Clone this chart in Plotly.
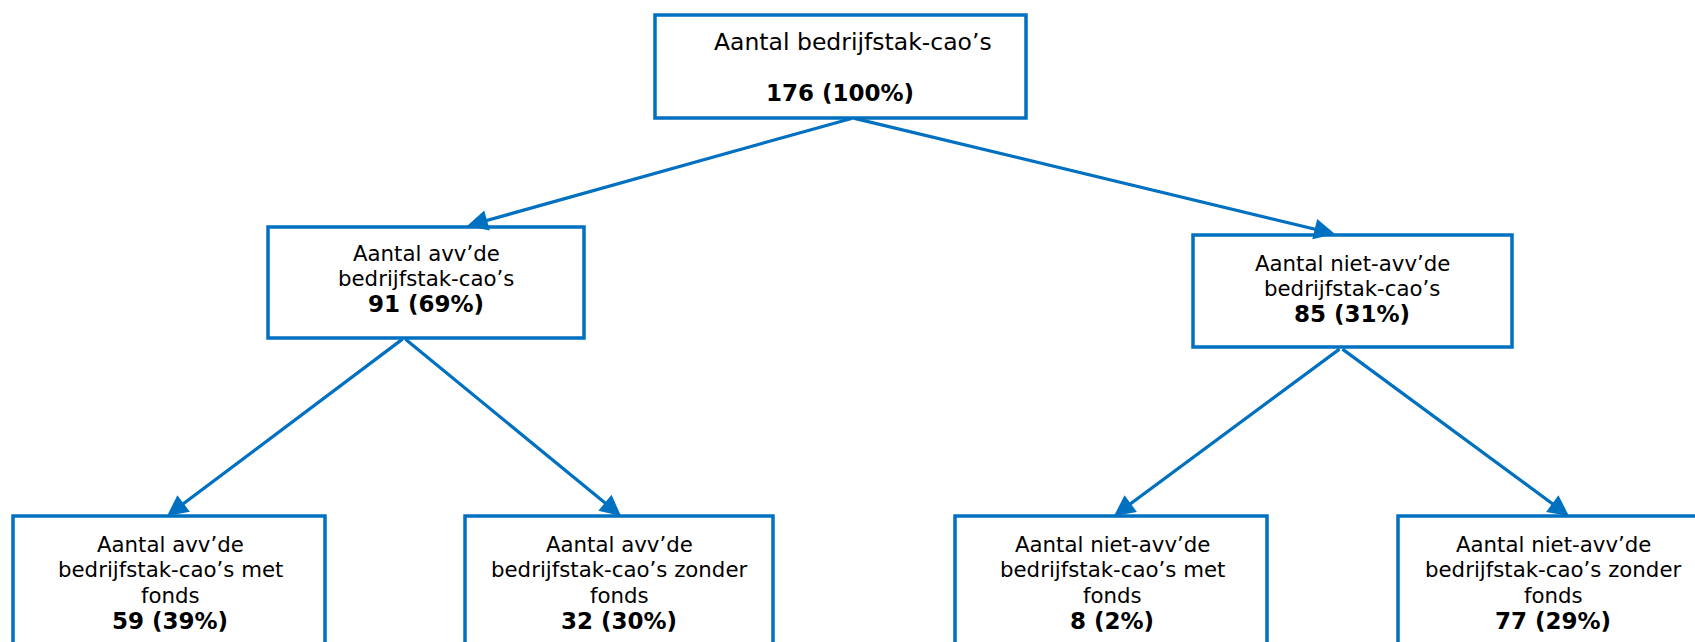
import plotly.graph_objects as go

# node texts and figures
node_labels = [
    ["Aantal bedrijfstak-cao’s", ""],
    ["Aantal avv’de", "bedrijfstak-cao’s"],
    ["Aantal niet-avv’de", "bedrijfstak-cao’s"],
    ["Aantal avv’de", "bedrijfstak-cao’s met", "fonds"],
    ["Aantal avv’de", "bedrijfstak-cao’s zonder", "fonds"],
    ["Aantal niet-avv’de", "bedrijfstak-cao’s met", "fonds"],
    ["Aantal niet-avv’de", "bedrijfstak-cao’s zonder", "fonds"],
]
node_counts = [176, 91, 85, 59, 32, 8, 77]
node_pcts = [100, 69, 31, 39, 30, 2, 29]
edges = [(0, 1), (0, 2), (1, 3), (1, 4), (2, 5), (2, 6)]

# diagram geometry (pixels, y downwards)
boxes = [
    (655, 15, 1026, 118),
    (268, 227, 584, 338),
    (1193, 235, 1512, 347),
    (13, 516, 325, 700),
    (465, 516, 773, 700),
    (955, 516, 1267, 700),
    (1398, 516, 1710, 700),
]
text_x = [840, 426, 1352, 170, 619, 1112, 1553]
text_y0 = [42, 253, 263, 544, 544, 544, 544]
line_h = 25.7
edge_start = {0: (853, 118), 1: (404, 338), 2: (1341, 348)}
edge_tip = {1: (467, 226), 2: (1335, 234), 3: (167, 516), 4: (621, 516),
            5: (1114, 516), 6: (1569, 516)}

BLUE = "#0070C0"
FONT = "DejaVu Sans"

fig = go.Figure()

for x0, y0, x1, y1 in boxes:
    fig.add_shape(type="rect", x0=x0, y0=y0, x1=x1, y1=y1,
                  line=dict(color=BLUE, width=3.5), fillcolor="white", layer="below")

for i, lines in enumerate(node_labels):
    all_lines = [(t, False) for t in lines] + [(f"{node_counts[i]} ({node_pcts[i]}%)", True)]
    for k, (t, bold) in enumerate(all_lines):
        if not t:
            continue
        size = 23 if bold else 21.3
        x = text_x[i]
        if i == 0 and k == 0:
            # the heading line of the top box is a bit larger and sits off-centre
            size, x = 23.5, 853
        fig.add_annotation(
            x=x, y=text_y0[i] + k * line_h, xref="x", yref="y",
            text=f"<b>{t}</b>" if bold else t, showarrow=False,
            font=dict(family=FONT, size=size, color="black"),
            xanchor="center", yanchor="middle",
        )

for a, b in edges:
    sx, sy = edge_start[a]
    tx, ty = edge_tip[b]
    fig.add_annotation(
        x=tx, y=ty, ax=sx, ay=sy, xref="x", yref="y", axref="x", ayref="y",
        text="", showarrow=True, arrowhead=2, arrowsize=1.3, arrowwidth=3.2,
        arrowcolor=BLUE, standoff=0, startstandoff=0,
    )

fig.update_xaxes(range=[0, 1695], visible=False, fixedrange=True)
fig.update_yaxes(range=[642, 0], visible=False, fixedrange=True)
fig.update_layout(
    width=1695, height=642, margin=dict(l=0, r=0, t=0, b=0),
    plot_bgcolor="white", paper_bgcolor="white", showlegend=False,
)

# drop the default page margin so the figure sits at the window's corner
fig.write_html(
    "out.html",
    config={"displayModeBar": False},
    post_script="document.body.style.margin='0';document.body.style.overflow='hidden';",
)
